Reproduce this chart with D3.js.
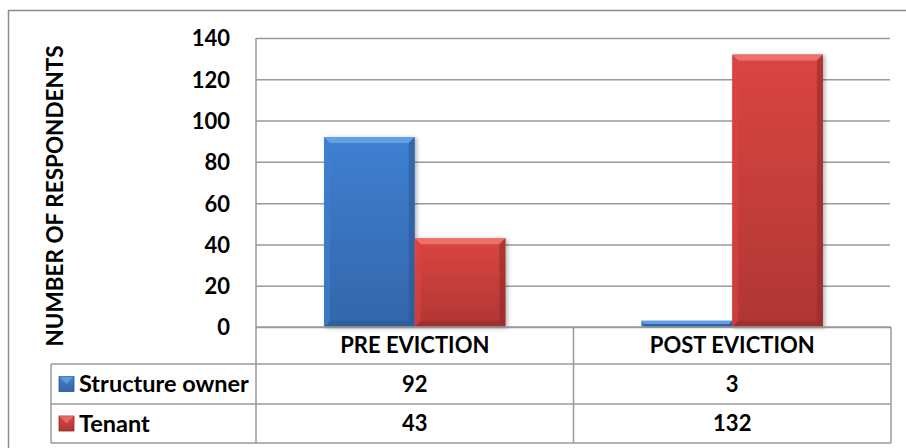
<!DOCTYPE html>
<html>
<head>
<meta charset="utf-8">
<script src="https://cdn.jsdelivr.net/npm/d3@7"></script>
<style>
  html, body { margin: 0; padding: 0; background: #fff; }
  svg text { font-family: Lato, "Open Sans", sans-serif; font-weight: bold; fill: #000; }
</style>
</head>
<body>
<svg id="chart" width="906" height="448"></svg>
<script>
// chart data
const categories = ['PRE EVICTION', 'POST EVICTION']
const seriesNames = ['Structure owner', 'Tenant']
const structureOwner = [92, 3]
const tenant = [43, 132]
const yTicks = [0, 20, 40, 60, 80, 100, 120, 140]
const yTitle = 'NUMBER OF RESPONDENTS'

const series = [
  { name: seriesNames[0], values: structureOwner, key: 'blue' },
  { name: seriesNames[1], values: tenant, key: 'red' }
]

const colors = {
  blue: { top: '#3f80d2', bottom: '#3466aa', light: '#6aa6e8', dark: '#2a558f' },
  red: { top: '#da4542', bottom: '#b03634', light: '#ee7874', dark: '#8c2a28' }
}

const svg = d3.select('#chart')
const plot = { left: 256, right: 891, top: 38, bottom: 327 }
const rowEdges = [327, 364, 404, 443]
const legendLeft = 51
const gridColor = '#9a9a9a'
const fontSize = 22

// outer frame
svg.append('rect')
  .attr('x', 8.5).attr('y', 10.5)
  .attr('width', 920).attr('height', 450)
  .attr('fill', 'none')
  .attr('stroke', '#8c8c8c')
  .attr('stroke-width', 1.5)

const x0 = d3.scaleBand()
  .domain(categories)
  .range([plot.left, plot.right])

const x1 = d3.scaleBand()
  .domain(seriesNames)
  .range([0, x0.bandwidth()])
  .paddingOuter(0.75)

const y = d3.scaleLinear()
  .domain([0, 140])
  .range([plot.bottom, plot.top])

// gradients
const defs = svg.append('defs')
Object.keys(colors).forEach(k => {
  const g = defs.append('linearGradient')
    .attr('id', 'grad-' + k)
    .attr('x1', 0).attr('y1', 0).attr('x2', 0).attr('y2', 1)
  g.append('stop').attr('offset', '0%').attr('stop-color', colors[k].top)
  g.append('stop').attr('offset', '100%').attr('stop-color', colors[k].bottom)
})
const shadow = defs.append('filter').attr('id', 'shadow')
  .attr('x', '-10%').attr('y', '-10%').attr('width', '130%').attr('height', '120%')
shadow.append('feDropShadow')
  .attr('dx', 2).attr('dy', 1).attr('stdDeviation', 2)
  .attr('flood-color', '#000').attr('flood-opacity', 0.3)

// y axis with gridlines
const yAxis = d3.axisLeft(y)
  .tickValues(yTicks)
  .tickSize(-(plot.right - 1 - plot.left))
  .tickPadding(26)
  .tickSizeOuter(0)

const gy = svg.append('g')
  .attr('transform', `translate(${plot.left},0)`)
  .call(yAxis)
gy.select('.domain').remove()
gy.selectAll('.tick line')
  .attr('stroke', gridColor)
  .attr('stroke-width', 1.5)
gy.selectAll('.tick text')
  .attr('font-size', fontSize)
  .attr('font-family', 'Lato, sans-serif')
  .attr('font-weight', 'bold')
  .attr('fill', '#000')
  .attr('dy', '0.36em')

// left axis line
svg.append('line')
  .attr('x1', plot.left).attr('x2', plot.left)
  .attr('y1', plot.top).attr('y2', rowEdges[3])
  .attr('stroke', gridColor).attr('stroke-width', 1.5)

// bars
const groups = svg.append('g').selectAll('g')
  .data(categories)
  .join('g')
  .attr('transform', d => `translate(${x0(d)},0)`)

groups.selectAll('g.bar')
  .data((c, i) => series.map(s => ({ name: s.name, key: s.key, value: s.values[i] })))
  .join('g')
  .attr('class', 'bar')
  .each(function (d) {
    const g = d3.select(this)
    const bx = x1(d.name)
    const bw = x1.bandwidth()
    const by = y(d.value)
    const bh = y(0) - y(d.value)
    const b = Math.min(6, bh / 2, bw / 2)
    const c = colors[d.key]
    g.append('rect')
      .attr('x', bx).attr('y', by)
      .attr('width', bw).attr('height', bh)
      .attr('fill', `url(#grad-${d.key})`)
      .attr('filter', 'url(#shadow)')
    // bevel edges
    const pts = (arr) => arr.map(p => p.join(',')).join(' ')
    g.append('polygon')
      .attr('points', pts([[bx, by], [bx + bw, by], [bx + bw - b, by + b], [bx + b, by + b]]))
      .attr('fill', c.light).attr('opacity', 0.85)
    g.append('polygon')
      .attr('points', pts([[bx + bw, by], [bx + bw, by + bh], [bx + bw - b, by + bh - b], [bx + bw - b, by + b]]))
      .attr('fill', c.dark).attr('opacity', 0.55)
    g.append('polygon')
      .attr('points', pts([[bx, by + bh], [bx + bw, by + bh], [bx + bw - b, by + bh - b], [bx + b, by + bh - b]]))
      .attr('fill', c.dark).attr('opacity', 0.45)
    g.append('polygon')
      .attr('points', pts([[bx, by], [bx + b, by + b], [bx + b, by + bh - b], [bx, by + bh]]))
      .attr('fill', c.top).attr('opacity', 0.6)
  })

// y axis title
svg.append('text')
  .attr('transform', 'translate(63,196) rotate(-90)')
  .attr('text-anchor', 'middle')
  .attr('font-size', 22.5)
  .text(yTitle)

// data table
const table = svg.append('g')
const tableLine = (x1p, y1p, x2p, y2p) => table.append('line')
  .attr('x1', x1p).attr('y1', y1p).attr('x2', x2p).attr('y2', y2p)
  .attr('stroke', gridColor).attr('stroke-width', 1.5)

tableLine(plot.left, rowEdges[0], plot.right, rowEdges[0])
rowEdges.slice(1).forEach(ry => tableLine(legendLeft, ry, plot.right, ry))
tableLine(legendLeft, rowEdges[1], legendLeft, rowEdges[3])
categories.forEach(cat => tableLine(x0(cat) + x0.bandwidth(), rowEdges[0], x0(cat) + x0.bandwidth(), rowEdges[3]))

// header row
table.selectAll('text.head')
  .data(categories)
  .join('text')
  .attr('class', 'head')
  .attr('x', d => x0(d) + x0.bandwidth() / 2)
  .attr('y', (rowEdges[0] + rowEdges[1]) / 2)
  .attr('dy', '0.36em')
  .attr('text-anchor', 'middle')
  .attr('font-size', fontSize)
  .text(d => d)

// series rows
series.forEach((s, si) => {
  const cy = (rowEdges[si + 1] + rowEdges[si + 2]) / 2
  const keyG = table.append('g')
  keyG.append('rect')
    .attr('x', 59).attr('y', cy - 7.5)
    .attr('width', 15).attr('height', 15)
    .attr('fill', `url(#grad-${s.key})`)
    .attr('stroke', colors[s.key].dark).attr('stroke-width', 0.8)
  keyG.append('polygon')
    .attr('points', `59,${cy - 7.5} 74,${cy - 7.5} 66.5,${cy}`)
    .attr('fill', colors[s.key].light).attr('opacity', 0.7)
  table.append('text')
    .attr('x', 79).attr('y', cy)
    .attr('dy', '0.36em')
    .attr('font-size', 23.5)
    .text(s.name)
  table.selectAll(null)
    .data(s.values)
    .join('text')
    .attr('x', (d, i) => x0(categories[i]) + x0.bandwidth() / 2)
    .attr('y', cy)
    .attr('dy', '0.36em')
    .attr('text-anchor', 'middle')
    .attr('font-size', fontSize)
    .text(d => d)
})
</script>
</body>
</html>
